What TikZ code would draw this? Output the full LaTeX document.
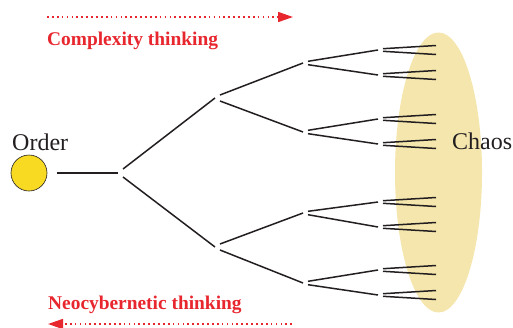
\documentclass[tikz,border=0pt]{standalone}
\usepackage{fontspec}
\setmainfont{Liberation Serif}
\usetikzlibrary{arrows.meta,calc}
\definecolor{chaosfill}{HTML}{F5E6AE}
\definecolor{ordfill}{HTML}{F8DA22}
\definecolor{thinkred}{HTML}{E8262E}
\definecolor{inkdark}{HTML}{231F20}
\begin{document}
\begin{tikzpicture}[x=1pt,y=-1pt,
  branch/.style={line width=1.5pt, draw=inkdark},
  biglabel/.style={anchor=base west, inner sep=0pt, text=inkdark, font=\fontsize{24}{24}\selectfont},
  redlabel/.style={anchor=base west, inner sep=0pt, text=thinkred, font=\bfseries\fontsize{19.4}{20}\selectfont},
  redarrow/.style={draw=thinkred, line width=1.7pt, dash pattern=on 1.7pt off 3.2pt, -{Triangle[length=15pt,width=10pt,fill=thinkred]}}]
\useasboundingbox (0,0) rectangle (513,327);
% chaos region
\fill[chaosfill] (438.5,172.5) ellipse [x radius=43.5pt, y radius=140pt];
% labels
\node[biglabel] (ordlbl) at (12,150) {Order};
\node[biglabel] (chaoslbl) at (452,149.5) {Chaos};
\node[circle, draw=inkdark, line width=0.6pt, fill=ordfill, minimum size=36pt, inner sep=0pt] (ord) at (29,173) {};
% tree coordinates
\coordinate (R) at (118,173);
\coordinate (A) at (215,98);
\coordinate (B) at (215,247);
\coordinate (A1) at (303,63);
\coordinate (A2) at (303,132);
\coordinate (B1) at (303,213);
\coordinate (B2) at (303,283);
\coordinate (A1a) at (378,50);
\coordinate (A1b) at (378,75);
\coordinate (A2a) at (378,119);
\coordinate (A2b) at (378,144);
\coordinate (B1a) at (378,202);
\coordinate (B1b) at (378,227);
\coordinate (B2a) at (378,270);
\coordinate (B2b) at (378,295);
\foreach \n in {A1a,A1b,A2a,A2b,B1a,B1b,B2a,B2b}{
  \coordinate (\n-u) at ($(\n)+(58,-4.5)$);
  \coordinate (\n-d) at ($(\n)+(58,4.5)$);
}
% root
\draw[branch] ($(ord.east)+(10,0)$) -- (R);
\draw[branch] ($(R)+(5,-4)$) -- (A);
\draw[branch] ($(R)+(5,4)$) -- (B);
\foreach \p/\c/\d in {A/A1/A2, B/B1/B2}{
  \draw[branch] ($(\p)+(5,-3)$) -- (\c);
  \draw[branch] ($(\p)+(5,3)$) -- (\d);
}
\foreach \p/\c/\d in {A1/A1a/A1b, A2/A2a/A2b, B1/B1a/B1b, B2/B2a/B2b}{
  \draw[branch] ($(\p)+(5,-1.7)$) -- (\c);
  \draw[branch] ($(\p)+(5,1.7)$) -- (\d);
}
\foreach \n in {A1a,A1b,A2a,A2b,B1a,B1b,B2a,B2b}{
  \draw[branch] ($(\n)+(5,-1.3)$) -- (\n-u);
  \draw[branch] ($(\n)+(5,1.3)$) -- (\n-d);
}
% thinking directions
\node[redlabel] (cx) at (47,45) {Complexity thinking};
\node[redlabel] (nc) at (48,309.3) {Neocybernetic thinking};
\coordinate (ca0) at (47,17);
\coordinate (ca1) at (293,17);
\coordinate (na0) at (292,324);
\coordinate (na1) at (48,324);
\draw[redarrow] (ca0) -- (ca1);
\draw[redarrow] (na0) -- (na1);
\end{tikzpicture}
\end{document}
